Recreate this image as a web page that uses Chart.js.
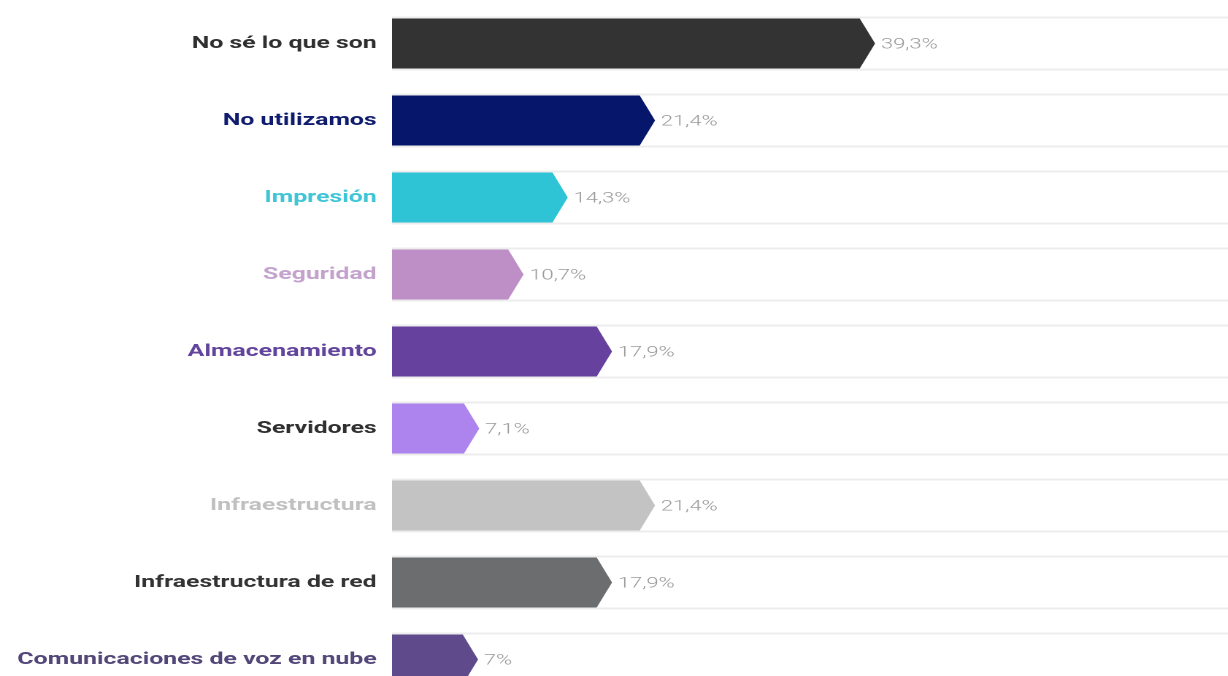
<!DOCTYPE html>
<html>
<head>
<meta charset="utf-8">
<script src="https://cdn.jsdelivr.net/npm/chart.js@4"></script>
<style>
  html, body { margin: 0; padding: 0; background: #ffffff; overflow: hidden; }
  #c { display: block; transform: scaleX(1.46); transform-origin: 0 0; }
</style>
</head>
<body>
<canvas id="c" width="841" height="700"></canvas>
<script>
const categories = [
  "No sé lo que son",
  "No utilizamos",
  "Impresión",
  "Seguridad",
  "Almacenamiento",
  "Servidores",
  "Infraestructura",
  "Infraestructura de red",
  "Comunicaciones de voz en nube"
];
const values = [39.3, 21.4, 14.3, 10.7, 17.9, 7.1, 21.4, 17.9, 7];
const valueLabels = ["39,3%", "21,4%", "14,3%", "10,7%", "17,9%", "7,1%", "21,4%", "17,9%", "7%"];
const barColors = ["#333333", "#06176b", "#2fc4d5", "#bd8fc6", "#66419d", "#ad83ee", "#c3c3c3", "#6b6d6f", "#5f4b8c"];
const labelColors = ["#2f2f2f", "#0f1c6e", "#3ec5d6", "#c3a2cc", "#62449c", "#2f2f2f", "#c0c0c0", "#333333", "#524778"];

const arrowPlugin = {
  id: 'arrowBars',
  beforeDatasetsDraw(chart) {
    const ctx = chart.ctx;
    const area = chart.chartArea;
    const meta = chart.getDatasetMeta(0);
    ctx.save();
    ctx.strokeStyle = '#ececec';
    ctx.lineWidth = 2;
    meta.data.forEach((el) => {
      const p = el.getProps(['x', 'y', 'base', 'height'], true);
      const top = p.y - p.height / 2 - 1;
      const bot = p.y + p.height / 2 + 1;
      ctx.beginPath();
      ctx.moveTo(p.base, top); ctx.lineTo(area.right, top);
      ctx.moveTo(p.base, bot); ctx.lineTo(area.right, bot);
      ctx.stroke();
    });
    ctx.restore();
  },
  beforeDatasetDraw() { return false; },
  afterDatasetsDraw(chart) {
    const ctx = chart.ctx;
    const meta = chart.getDatasetMeta(0);
    ctx.save();
    meta.data.forEach((el, i) => {
      const p = el.getProps(['x', 'y', 'base', 'height'], true);
      const h = p.height;
      const top = p.y - h / 2, bot = p.y + h / 2;
      const tip = 10.5;
      ctx.fillStyle = el.options.backgroundColor;
      ctx.beginPath();
      ctx.moveTo(p.base, top);
      ctx.lineTo(p.x - tip, top);
      ctx.lineTo(p.x, p.y);
      ctx.lineTo(p.x - tip, bot);
      ctx.lineTo(p.base, bot);
      ctx.closePath();
      ctx.fill();
      ctx.fillStyle = '#9a9a9a';
      ctx.font = '300 15px Roboto';
      ctx.textAlign = 'left';
      ctx.textBaseline = 'middle';
      ctx.fillText(valueLabels[i], p.x + 4, p.y + 1);
    });
    ctx.restore();
  }
};

new Chart(document.getElementById('c'), {
  type: 'bar',
  data: {
    labels: categories,
    datasets: [{
      data: values,
      backgroundColor: barColors,
      barThickness: 50,
      borderWidth: 0
    }]
  },
  options: {
    indexAxis: 'y',
    responsive: false,
    maintainAspectRatio: false,
    devicePixelRatio: 2,
    animation: false,
    layout: { padding: { top: 5, bottom: 2, left: 0, right: 0 } },
    plugins: { legend: { display: false }, tooltip: { enabled: false } },
    scales: {
      x: {
        min: 0, max: 68,
        display: false
      },
      y: {
        grid: { display: false },
        border: { display: false },
        afterFit(s) { s.width = 268.5; s.paddingTop = 0; s.paddingBottom = 0; },
        ticks: {
          padding: 2.5,
          color: labelColors,
          font: { family: 'Roboto', size: 17, weight: 'bold' }
        }
      }
    }
  },
  plugins: [arrowPlugin]
});
</script>
</body>
</html>
